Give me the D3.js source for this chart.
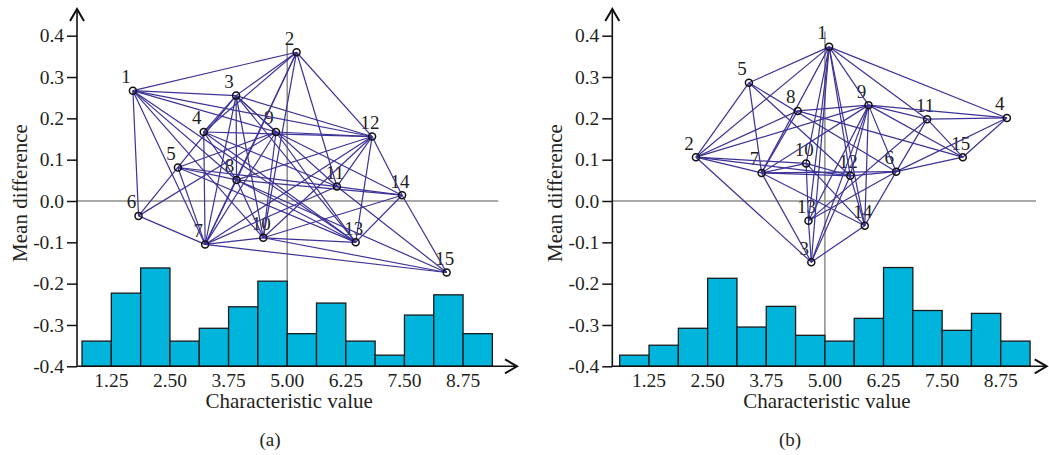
<!DOCTYPE html>
<html>
<head>
<meta charset="utf-8">
<script src="https://cdn.jsdelivr.net/npm/d3@7"></script>
<style>
    body { margin: 0; background: #fff; }
    text { font-family: "Liberation Serif", "DejaVu Serif", serif; fill: #231f20; }
</style>
</head>
<body>
<svg id="chart" width="1049" height="455"></svg>
<script>
// axis ticks
var yTicks = [-0.4, -0.3, -0.2, -0.1, 0.0, 0.1, 0.2, 0.3, 0.4];
var yTickLabels = ["-0.4", "-0.3", "-0.2", "-0.1", "0.0", "0.1", "0.2", "0.3", "0.4"];
var xTicks = [1.25, 2.5, 3.75, 5.0, 6.25, 7.5, 8.75];
var xTickLabels = ["1.25", "2.50", "3.75", "5.00", "6.25", "7.50", "8.75"];
var binStart = 0.625, binWidth = 0.625;
var refX = 5.0;

// histogram tops (mean difference scale, bars rise from -0.4)
var barsA = [-0.339, -0.223, -0.162, -0.339, -0.308, -0.256, -0.194, -0.321, -0.247, -0.339, -0.373, -0.276, -0.227, -0.321];
var barsB = [-0.373, -0.349, -0.308, -0.187, -0.305, -0.255, -0.325, -0.339, -0.284, -0.161, -0.265, -0.313, -0.272, -0.339];

// node positions [characteristic value, mean difference], node id = index + 1
var nodesA = [[1.71, 0.267], [5.20, 0.360], [3.91, 0.255], [3.22, 0.167], [2.67, 0.081],
    [1.83, -0.036], [3.25, -0.105], [3.92, 0.051], [4.76, 0.167], [4.49, -0.089],
    [6.06, 0.035], [6.81, 0.156], [6.46, -0.100], [7.45, 0.014], [8.40, -0.173]];
var nodesB = [[5.09, 0.373], [2.25, 0.106], [4.71, -0.148], [8.88, 0.201], [3.38, 0.286],
    [6.52, 0.071], [3.65, 0.068], [4.42, 0.218], [5.93, 0.232], [4.60, 0.091],
    [7.18, 0.198], [5.54, 0.061], [4.65, -0.048], [5.85, -0.060], [7.94, 0.106]];

var edgesA = [[1, 2], [1, 3], [1, 9], [1, 12], [1, 8], [1, 10], [1, 7], [1, 6], [1, 13],
    [2, 3], [2, 4], [2, 8], [2, 10], [2, 7], [2, 12], [2, 11],
    [3, 4], [3, 7], [3, 8], [3, 10], [3, 12], [3, 11], [3, 9], [3, 13], [3, 6],
    [4, 12], [4, 7], [4, 8], [4, 11], [4, 13],
    [5, 9], [5, 8], [5, 11], [5, 13], [5, 7],
    [6, 7], [6, 9],
    [7, 8], [7, 9], [7, 10], [7, 12], [7, 15], [7, 11],
    [8, 10], [8, 12], [8, 15], [8, 14], [8, 13],
    [9, 12], [9, 10], [9, 13], [9, 14],
    [10, 12], [10, 14], [10, 15], [10, 13],
    [11, 12], [11, 14], [11, 15],
    [12, 14], [12, 13], [13, 14], [14, 15]];
var edgesB = [[1, 5], [1, 2], [1, 7], [1, 10], [1, 13], [1, 3], [1, 12], [1, 9], [1, 11], [1, 4], [1, 14],
    [5, 2], [5, 7], [5, 6], [5, 12],
    [2, 8], [2, 9], [2, 10], [2, 7], [2, 3], [2, 12],
    [8, 9], [8, 7], [8, 15],
    [9, 11], [9, 4], [9, 15], [9, 6], [9, 14], [9, 12], [9, 13], [9, 3], [9, 7],
    [11, 4], [11, 15], [11, 6], [11, 13],
    [4, 15], [4, 6],
    [7, 12], [7, 6], [7, 10], [7, 3], [7, 14],
    [10, 12], [10, 13], [10, 14],
    [12, 6], [12, 14], [12, 3],
    [6, 15], [6, 14], [6, 13], [14, 3], [13, 3]];

// ---- layout ----
var svg = d3.select("#chart");
var y = d3.scaleLinear().domain([-0.4, 0.4]).range([366.3, 35.7]);

var panels = [
    { x0: 52.7, axisX: 77, tipX: 517, lineEnd: 9.5, refTop: 0.382, caption: "(a)", capX: 270, bars: barsA, nodes: nodesA, edges: edgesA },
    { x0: 590.4, axisX: 612.3, tipX: 1046.7, lineEnd: 9.5, refTop: 0.41, caption: "(b)", capX: 790, bars: barsB, nodes: nodesB, edges: edgesB }
];

panels.forEach(function (p) {
    var x = d3.scaleLinear().domain([0, 10]).range([p.x0, p.x0 + 469]);
    var g = svg.append("g");

    // grey reference lines
    g.append("line")
        .attr("x1", p.axisX).attr("x2", x(p.lineEnd))
        .attr("y1", y(0)).attr("y2", y(0))
        .attr("stroke", "#8c8c8c").attr("stroke-width", 1.5);
    g.append("line")
        .attr("x1", x(refX)).attr("x2", x(refX))
        .attr("y1", y(p.refTop)).attr("y2", y(-0.4))
        .attr("stroke", "#8c8c8c").attr("stroke-width", 1.5);

    // histogram
    g.selectAll(".bar")
        .data(p.bars)
        .enter()
        .append("rect")
        .attr("class", "bar")
        .attr("x", function (d, i) { return x(binStart + i * binWidth); })
        .attr("width", function () { return x(binWidth) - x(0); })
        .attr("y", function (d) { return y(d); })
        .attr("height", function (d) { return y(-0.4) - y(d); })
        .attr("fill", "#00b4dc")
        .attr("stroke", "#1a1a1a")
        .attr("stroke-width", 1.3);

    // y axis
    var yAxis = d3.axisLeft(y)
        .tickValues(yTicks)
        .tickSize(10)
        .tickPadding(3)
        .tickFormat(function (d, i) { return yTickLabels[i]; });
    var ya = g.append("g")
        .attr("transform", "translate(" + p.axisX + ",0)")
        .call(yAxis);
    ya.select(".domain").remove();
    ya.selectAll(".tick line").attr("stroke", "#111").attr("stroke-width", 1.5);
    ya.selectAll(".tick text")
        .attr("font-size", 19.5)
        .attr("font-family", "Liberation Serif")
        .attr("fill", "#231f20");

    // x tick labels (no tick marks)
    g.selectAll(".xlab")
        .data(xTicks)
        .enter()
        .append("text")
        .attr("class", "xlab")
        .attr("x", function (d) { return x(d); })
        .attr("y", 387)
        .attr("text-anchor", "middle")
        .attr("font-size", 19.5)
        .text(function (d, i) { return xTickLabels[i]; });

    // axis lines with open arrowheads
    g.append("line")
        .attr("x1", p.axisX).attr("x2", p.axisX)
        .attr("y1", y(-0.4) + 0.5).attr("y2", 9)
        .attr("stroke", "#111").attr("stroke-width", 1.6);
    g.append("path")
        .attr("d", "M" + (p.axisX - 7) + ",21L" + p.axisX + ",9L" + (p.axisX + 7) + ",21")
        .attr("fill", "none").attr("stroke", "#111").attr("stroke-width", 2);
    g.append("line")
        .attr("x1", p.axisX).attr("x2", p.tipX)
        .attr("y1", y(-0.4)).attr("y2", y(-0.4))
        .attr("stroke", "#111").attr("stroke-width", 1.6);
    var yb = y(-0.4);
    g.append("path")
        .attr("d", "M" + (p.tipX - 12) + "," + (yb - 7) + "L" + p.tipX + "," + yb + "L" + (p.tipX - 12) + "," + (yb + 7))
        .attr("fill", "none").attr("stroke", "#111").attr("stroke-width", 2);

    // axis titles
    g.append("text")
        .attr("x", x(5) + 2).attr("y", 408)
        .attr("text-anchor", "middle")
        .attr("font-size", 21)
        .text("Characteristic value");
    g.append("text")
        .attr("transform", "translate(" + (p.axisX - 50) + ",193) rotate(-90)")
        .attr("text-anchor", "middle")
        .attr("font-size", 21)
        .text("Mean difference");
    g.append("text")
        .attr("x", p.capX).attr("y", 446)
        .attr("text-anchor", "middle")
        .attr("font-size", 19)
        .text(p.caption);

    // node labels (under the edges)
    g.selectAll(".nlab")
        .data(p.nodes)
        .enter()
        .append("text")
        .attr("class", "nlab")
        .attr("x", function (d, i) { return x(d[0]) + (i + 1 < 10 ? -7 : -2); })
        .attr("y", function (d) { return y(d[1]) - 7.5; })
        .attr("text-anchor", "middle")
        .attr("font-size", 19)
        .text(function (d, i) { return i + 1; });

    // edges
    g.selectAll(".edge")
        .data(p.edges)
        .enter()
        .append("line")
        .attr("class", "edge")
        .attr("x1", function (e) { return x(p.nodes[e[0] - 1][0]); })
        .attr("y1", function (e) { return y(p.nodes[e[0] - 1][1]); })
        .attr("x2", function (e) { return x(p.nodes[e[1] - 1][0]); })
        .attr("y2", function (e) { return y(p.nodes[e[1] - 1][1]); })
        .attr("stroke", "#3b3397")
        .attr("stroke-width", 1.2);

    // nodes
    g.selectAll(".node")
        .data(p.nodes)
        .enter()
        .append("circle")
        .attr("class", "node")
        .attr("cx", function (d) { return x(d[0]); })
        .attr("cy", function (d) { return y(d[1]); })
        .attr("r", 3.5)
        .attr("fill", "none")
        .attr("stroke", "#111")
        .attr("stroke-width", 1.5);
});
</script>
</body>
</html>
